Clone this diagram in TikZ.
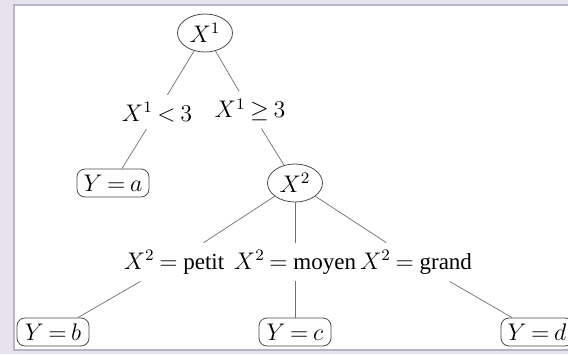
\documentclass[tikz,border=0pt]{standalone}
\usepackage{fontspec}
\setmainfont{Liberation Serif}
\usetikzlibrary{shapes.geometric}
\definecolor{framegrey}{HTML}{B9B3C9}
\definecolor{outgrey}{HTML}{E6E3EC}
\definecolor{edgegrey}{HTML}{707070}
\newcommand\treefont{\fontsize{11.5}{13}\selectfont\thickmuskip=3.5mu\relax\medmuskip=3mu\relax}
\tikzset{
  test/.style={draw=black!70, ellipse, inner sep=1pt, minimum width=27.5pt, minimum height=19pt},
  leaf/.style={draw=black!70, fill=white, rounded corners=4pt, inner sep=1.5pt, minimum width=36pt, minimum height=14pt},
  cond/.style={inner sep=3.5pt},
  br/.style={draw=edgegrey, line width=0.35pt},
}
\begin{document}
\begin{tikzpicture}[x=0.5pt, y=-0.5pt, every node/.style={font=\treefont}]
  \useasboundingbox (0,0) rectangle (568,354);
  % frame of the scanned figure
  \fill[outgrey] (0,0) rectangle (568,354);
  \fill[white] (14,5) rectangle (568,350);
  \draw[framegrey, line width=0.8pt] (568,5) -- (14,5) -- (14,350) -- (568,350);
  % tests
  \node[test] (x1) at (205,33) {$X^1$};
  \node[test] (x2) at (295,183) {$X^2$};
  % conditions
  \node[cond] (lt) at (157,112) {$X^1 < 3$};
  \node[cond] (ge) at (250,110) {$X^1 \geq 3$};
  \node[cond] (pe) at (174,262) {$X^2 =$ petit};
  \node[cond] (mo) at (295,262) {$X^2 =$ moyen};
  \node[cond] (gr) at (416,262) {$X^2 =$ grand};
  % leaves
  \node[leaf] (ya) at (113,183) {$Y = a$};
  \node[leaf] (yb) at (53,332) {$Y = b$};
  \node[leaf] (yc) at (295,332) {$Y = c$};
  \node[leaf] (yd) at (537,332) {$Y = d$};
  % branches
  \draw[br] (x1) -- (lt) (lt) -- (ya);
  \draw[br] (x1) -- (ge) (ge) -- (x2);
  \draw[br] (x2) -- (pe) (pe) -- (yb);
  \draw[br] (x2) -- (mo) (mo) -- (yc);
  \draw[br] (x2) -- (gr) (gr) -- (yd);
\end{tikzpicture}
\end{document}
